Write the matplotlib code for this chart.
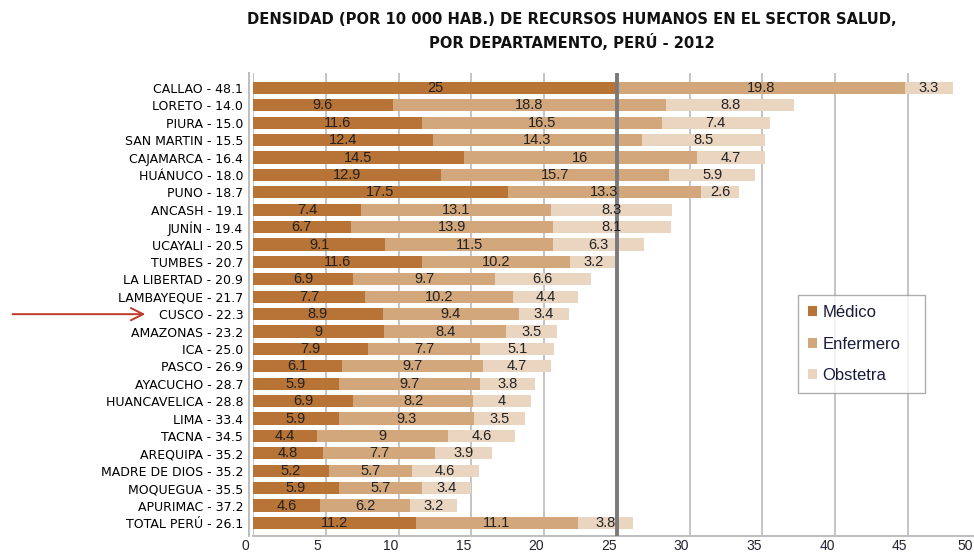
import matplotlib
matplotlib.use('Agg')
import matplotlib.pyplot as plt
import matplotlib.transforms as mtransforms
import numpy as np

# Datos: densidad por 10 000 hab., Peru 2012
departamentos = ['CALLAO - 48.1', 'LORETO - 14.0', 'PIURA - 15.0', 'SAN MARTIN - 15.5',
                 'CAJAMARCA - 16.4', 'HUÁNUCO - 18.0', 'PUNO - 18.7', 'ANCASH - 19.1',
                 'JUNÍN - 19.4', 'UCAYALI - 20.5', 'TUMBES - 20.7', 'LA LIBERTAD - 20.9',
                 'LAMBAYEQUE - 21.7', 'CUSCO - 22.3', 'AMAZONAS - 23.2', 'ICA - 25.0',
                 'PASCO - 26.9', 'AYACUCHO - 28.7', 'HUANCAVELICA - 28.8', 'LIMA - 33.4',
                 'TACNA - 34.5', 'AREQUIPA - 35.2', 'MADRE DE DIOS - 35.2', 'MOQUEGUA - 35.5',
                 'APURIMAC - 37.2', 'TOTAL PERÚ - 26.1']
medico = [25, 9.6, 11.6, 12.4, 14.5, 12.9, 17.5, 7.4, 6.7, 9.1, 11.6, 6.9, 7.7,
          8.9, 9, 7.9, 6.1, 5.9, 6.9, 5.9, 4.4, 4.8, 5.2, 5.9, 4.6, 11.2]
enfermero = [19.8, 18.8, 16.5, 14.3, 16, 15.7, 13.3, 13.1, 13.9, 11.5, 10.2, 9.7, 10.2,
             9.4, 8.4, 7.7, 9.7, 9.7, 8.2, 9.3, 9, 7.7, 5.7, 5.7, 6.2, 11.1]
obstetra = [3.3, 8.8, 7.4, 8.5, 4.7, 5.9, 2.6, 8.3, 8.1, 6.3, 3.2, 6.6, 4.4,
            3.4, 3.5, 5.1, 4.7, 3.8, 4, 3.5, 4.6, 3.9, 4.6, 3.4, 3.2, 3.8]
x_ticks = [0, 5, 10, 15, 20, 25, 30, 35, 40, 45, 50]
linea_ref = 25
marcado = 'CUSCO - 22.3'
titulo1 = 'DENSIDAD (POR 10 000 HAB.) DE RECURSOS HUMANOS EN EL SECTOR SALUD,'
titulo2 = 'POR DEPARTAMENTO, PERÚ - 2012'

col_med = '#B87336'
col_enf = '#D3A77C'
col_obs = '#EAD5C1'

fig = plt.figure(figsize=(9.74, 5.54), dpi=100)
ax = fig.add_axes([0.2598, 0.0325, 0.7469, 0.8357])

y = np.arange(len(departamentos))
med = np.array(medico)
enf = np.array(enfermero)
obs = np.array(obstetra)

b1 = ax.barh(y, med, height=0.7, color=col_med, label='Médico', zorder=3)
b2 = ax.barh(y, enf, left=med, height=0.7, color=col_enf, label='Enfermero', zorder=3)
b3 = ax.barh(y, obs, left=med + enf, height=0.7, color=col_obs, label='Obstetra', zorder=3)

for b in (b1, b2, b3):
    ax.bar_label(b, fmt='%g', label_type='center', fontsize=10.5, color='#222222',
                 family='Liberation Sans', zorder=5)

ax.axvline(linea_ref, color='#7a7a7a', lw=2.8, zorder=4)

ax.set_xlim(0, 50)
ax.set_ylim(len(departamentos) - 0.25, -0.86)
ax.set_xticks(x_ticks)
ax.set_xticklabels([])
ax.tick_params(axis='x', length=0)
# etiquetas del eje x un poco desplazadas (efecto del piso 3D del original)
tr = mtransforms.blended_transform_factory(ax.transData, ax.transAxes)
tr = tr + mtransforms.ScaledTranslation(-8 / 100, -3 / 100, fig.dpi_scale_trans)
for i, t in enumerate(x_ticks):
    ax.text(t, 0, str(t), transform=tr, ha='right' if i == len(x_ticks) - 1 else 'center',
            va='top', fontsize=10, family='Liberation Sans', color='#222233', clip_on=False)

ax.set_yticks(y)
ax.set_yticklabels(departamentos, fontsize=10, family='DejaVu Sans', fontstretch='condensed',
                   fontweight='bold', color='#1a1a2a')
ax.tick_params(axis='y', length=0, pad=4)

ax.grid(axis='x', color='#c4c4c4', lw=1.4, zorder=0)
for s in ('top', 'right'):
    ax.spines[s].set_visible(False)
ax.spines['left'].set_color('#bdbdbd')
ax.spines['left'].set_linewidth(1.4)
ax.spines['left'].set_position(('outward', 3))
ax.spines['bottom'].set_color('#bdbdbd')
ax.spines['bottom'].set_linewidth(1.4)

leg = ax.legend(loc='upper left', bbox_to_anchor=(798 / 974, 1 - 393 / 554, 127 / 974, 98 / 554),
                bbox_transform=fig.transFigure, mode='expand', frameon=True, fancybox=False,
                edgecolor='#9a9a9a', prop={'family': 'Liberation Sans', 'size': 12},
                handlelength=0.55, handleheight=0.55, handletextpad=0.3,
                labelspacing=1.0, borderpad=0.6, borderaxespad=0)
leg.get_frame().set_linewidth(1.0)
for t in leg.get_texts():
    t.set_color('#1a1a3a')

t1 = fig.text(0.587, 1 - 20 / 554, titulo1, ha='center', va='center', fontsize=13,
              fontweight='bold', family='DejaVu Sans', fontstretch='condensed', color='#111111')
t2 = fig.text(0.587, 1 - 43 / 554, titulo2, ha='center', va='center', fontsize=13,
              fontweight='bold', family='DejaVu Sans', fontstretch='condensed', color='#111111')

# ajustar tamano para que el ancho coincida con la referencia
fig.canvas.draw()
w = t1.get_window_extent().width
fs = 13 * 645 / w
t1.set_fontsize(fs)
t2.set_fontsize(fs)
lab0 = ax.get_yticklabels()[0]
wl = lab0.get_window_extent().width
fl = 10 * 90 / wl
for lab in ax.get_yticklabels():
    lab.set_fontsize(fl)

# flecha roja hacia CUSCO
ax.annotate('', xy=(0.152, departamentos.index(marcado)), xycoords=('figure fraction', 'data'),
            xytext=(0.01, departamentos.index(marcado)), textcoords=('figure fraction', 'data'),
            arrowprops=dict(arrowstyle='->', color='#C0392B', lw=1.4,
                            mutation_scale=22), annotation_clip=False)

plt.savefig('out.png', dpi=100)
